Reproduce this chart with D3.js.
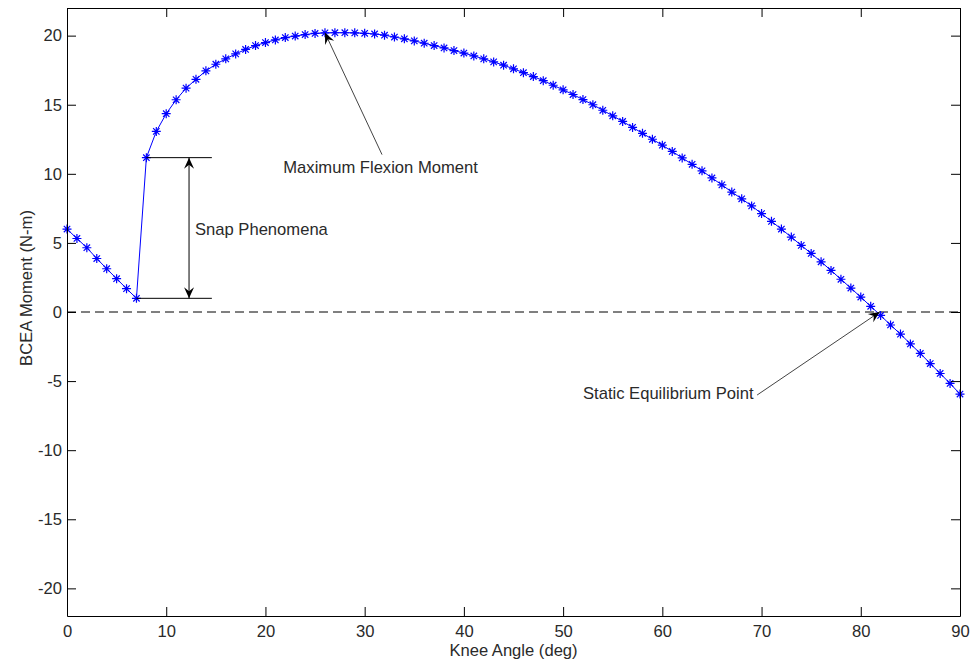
<!DOCTYPE html>
<html>
<head>
<meta charset="utf-8">
<script src="https://cdn.jsdelivr.net/npm/d3@7"></script>
<style>
  body { margin: 0; background: #fff; }
  svg { display: block; font-family: 'Liberation Sans', Arial, sans-serif; }
  .axis text { font-size: 16.6px; fill: #2a2a2a; }
  .axis path, .axis line { stroke: #000; }
  .note { font-size: 16.6px; fill: #2a2a2a; }
</style>
</head>
<body>
<script>
// knee angle (deg) and BCEA moment (N-m)
const kneeAngle = [
  0, 1, 2, 3, 4, 5, 6, 7, 8, 9, 10, 11, 12, 13, 14, 15, 16, 17, 18, 19,
  20, 21, 22, 23, 24, 25, 26, 27, 28, 29, 30, 31, 32, 33, 34, 35, 36, 37, 38, 39,
  40, 41, 42, 43, 44, 45, 46, 47, 48, 49, 50, 51, 52, 53, 54, 55, 56, 57, 58, 59,
  60, 61, 62, 63, 64, 65, 66, 67, 68, 69, 70, 71, 72, 73, 74, 75, 76, 77, 78, 79,
  80, 81, 82, 83, 84, 85, 86, 87, 88, 89, 90
];
const moment = [
  6.0, 5.32, 4.65, 3.87, 3.13, 2.41, 1.69, 0.99, 11.17, 13.07,
  14.35, 15.36, 16.2, 16.84, 17.45, 17.93, 18.32, 18.68, 19.0, 19.28,
  19.5, 19.69, 19.86, 19.97, 20.08, 20.16, 20.2, 20.21, 20.21, 20.2,
  20.17, 20.12, 20.03, 19.9, 19.77, 19.62, 19.45, 19.28, 19.11, 18.92,
  18.74, 18.53, 18.32, 18.1, 17.86, 17.6, 17.32, 17.04, 16.74, 16.41,
  16.08, 15.74, 15.37, 15.0, 14.6, 14.2, 13.79, 13.36, 12.93, 12.5,
  12.07, 11.62, 11.15, 10.69, 10.22, 9.7, 9.2, 8.68, 8.19, 7.68,
  7.12, 6.56, 6.0, 5.42, 4.82, 4.24, 3.63, 3.01, 2.37, 1.73,
  1.08, 0.41, -0.25, -0.94, -1.6, -2.31, -3.0, -3.73, -4.45, -5.17,
  -5.94
];
const xTicks = [0, 10, 20, 30, 40, 50, 60, 70, 80, 90];
const yTicks = [-20, -15, -10, -5, 0, 5, 10, 15, 20];

const w = 970;
const h = 662;
const margin = { top: 8, right: 10, bottom: 46, left: 67 };

const data = kneeAngle.map((a, i) => ({ angle: a, value: moment[i] }));

const svg = d3.select('body')
  .append('svg')
  .attr('width', w)
  .attr('height', h);

const x = d3.scaleLinear().domain([0, 90]).range([margin.left, w - margin.right]);
const y = d3.scaleLinear().domain([-22, 22]).range([h - margin.bottom, margin.top]);

// dashed zero line
svg.append('line')
  .attr('x1', x(0)).attr('x2', x(90))
  .attr('y1', y(0)).attr('y2', y(0))
  .attr('stroke', '#000')
  .attr('stroke-dasharray', '9,5');

// curve
const line = d3.line().x((d) => x(d.angle)).y((d) => y(d.value));
svg.append('path')
  .datum(data)
  .attr('d', line)
  .attr('fill', 'none')
  .attr('stroke', '#0000ff')
  .attr('stroke-width', 1);

// asterisk markers
const star = (cx, cy) => {
  const r = 4.5, q = 3.2;
  return `M${cx - r},${cy}H${cx + r}M${cx},${cy - r}V${cy + r}` +
    `M${cx - q},${cy - q}L${cx + q},${cy + q}M${cx - q},${cy + q}L${cx + q},${cy - q}`;
};
svg.append('g')
  .selectAll('path')
  .data(data)
  .enter()
  .append('path')
  .attr('d', (d) => star(x(d.angle), y(d.value)))
  .attr('stroke', '#0000ff')
  .attr('stroke-width', 1.2)
  .attr('fill', 'none');

// axes, ticks pointing inward on all four sides
const bottom = h - margin.bottom;
const right = w - margin.right;
const plain = (d) => String(d); // hyphen minus like the original
svg.append('g').attr('class', 'axis')
  .attr('transform', `translate(0,${bottom})`)
  .call(d3.axisBottom(x).tickValues(xTicks).tickSizeInner(-9).tickSizeOuter(0)
    .tickPadding(9).tickFormat(plain));
svg.append('g').attr('class', 'axis')
  .attr('transform', `translate(0,${margin.top})`)
  .call(d3.axisTop(x).tickValues(xTicks).tickSizeInner(-9).tickSizeOuter(0).tickFormat(''));
svg.append('g').attr('class', 'axis')
  .attr('transform', `translate(${margin.left},0)`)
  .call(d3.axisLeft(y).tickValues(yTicks).tickSizeInner(-9).tickSizeOuter(0)
    .tickPadding(5).tickFormat(plain));
svg.append('g').attr('class', 'axis')
  .attr('transform', `translate(${right},0)`)
  .call(d3.axisRight(y).tickValues(yTicks).tickSizeInner(-9).tickSizeOuter(0).tickFormat(''));

// axis titles
svg.append('text')
  .attr('class', 'note')
  .attr('x', (margin.left + right) / 2)
  .attr('y', 656)
  .attr('text-anchor', 'middle')
  .text('Knee Angle (deg)');
svg.append('text')
  .attr('class', 'note')
  .attr('transform', 'translate(32,288) rotate(-90)')
  .attr('text-anchor', 'middle')
  .text('BCEA Moment (N-m)');

// arrow heads (notched, filled)
const head = (tx, ty, fx, fy) => {
  const a = Math.atan2(ty - fy, tx - fx);
  const c = Math.cos(a), s = Math.sin(a);
  const L = 11, W = 5, N = 7;
  const bx = tx - L * c, by = ty - L * s;
  return `M${tx},${ty}L${bx - W * s},${by + W * c}L${tx - N * c},${ty - N * s}` +
    `L${bx + W * s},${by - W * c}Z`;
};
const arrow = (x1, y1, x2, y2, color) => {
  const [ax, ay, bx, by] = [x(x1), y(y1), x(x2), y(y2)];
  svg.append('line')
    .attr('x1', ax).attr('y1', ay).attr('x2', bx).attr('y2', by)
    .attr('stroke', color).attr('stroke-width', 1);
  svg.append('path').attr('d', head(bx, by, ax, ay)).attr('fill', '#000');
};

// snap phenomena
svg.append('line')
  .attr('x1', x(8)).attr('x2', x(14.6))
  .attr('y1', y(moment[8])).attr('y2', y(moment[8]))
  .attr('stroke', '#000');
svg.append('line')
  .attr('x1', x(7)).attr('x2', x(14.6))
  .attr('y1', y(moment[7])).attr('y2', y(moment[7]))
  .attr('stroke', '#000');
svg.append('line')
  .attr('x1', x(12.3)).attr('x2', x(12.3))
  .attr('y1', y(moment[8])).attr('y2', y(moment[7]))
  .attr('stroke', '#000');
svg.append('path').attr('d', head(x(12.3), y(moment[8]), x(12.3), y(6))).attr('fill', '#000');
svg.append('path').attr('d', head(x(12.3), y(moment[7]), x(12.3), y(6))).attr('fill', '#000');
svg.append('text').attr('class', 'note')
  .attr('x', x(12.9)).attr('y', y(5.97)).attr('dy', '0.35em')
  .text('Snap Phenomena');

// maximum flexion moment
svg.append('text').attr('class', 'note')
  .attr('x', x(21.8)).attr('y', y(10.45)).attr('dy', '0.35em')
  .text('Maximum Flexion Moment');
arrow(31.75, 11.39, 26, 20.2, '#444');

// static equilibrium point
svg.append('text').attr('class', 'note')
  .attr('x', x(69.2)).attr('y', y(-5.87)).attr('dy', '0.35em')
  .attr('text-anchor', 'end')
  .text('Static Equilibrium Point');
arrow(69.55, -6.01, 81.9, 0, '#444');
</script>
</body>
</html>
